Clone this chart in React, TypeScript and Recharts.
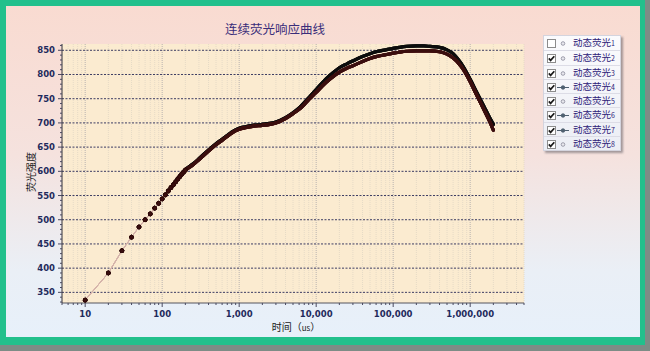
import React from 'react';
import { LineChart, Line, XAxis, YAxis, CartesianGrid } from 'recharts';

// ---- data ----
const times = [
  10, 20, 30, 40, 50, 60, 70, 80, 90, 100,
  110, 120, 130, 140, 150, 160, 170, 180, 190, 200,
  250, 300, 400, 500, 600, 700, 800,
  1000, 1200, 1500, 2000, 2500, 3000, 4000, 5000, 6000, 7000, 8000,
  10000, 12000, 15000, 20000, 25000, 30000, 40000, 50000, 60000, 80000,
  100000, 120000, 150000, 200000, 250000, 300000, 400000, 500000, 600000, 700000, 800000,
  1000000, 1200000, 1500000, 1800000, 2000000,
];

const fluorUpper = [
  334, 390, 436, 464, 485, 500, 512, 524, 534, 543,
  552, 560, 567, 573, 579, 585, 590, 595, 599, 603,
  615, 626, 644, 657, 666, 674, 681,
  689, 692, 695, 697, 699, 702, 711, 721, 731, 742, 752,
  769, 783, 798, 814, 822, 828, 837, 843, 847, 851,
  854, 856, 858, 859, 859, 858, 856, 851, 843, 831, 818,
  790, 765, 735, 710, 697,
];

const fluorLower = [
  334, 390, 436, 464, 485, 500, 512, 524, 534, 543,
  551, 559, 566, 572, 578, 584, 589, 594, 598, 602,
  613, 624, 642, 655, 664, 672, 679,
  687, 690, 693, 695, 697, 700, 709, 719, 728, 738, 748,
  763, 776, 790, 805, 813, 818, 827, 833, 837, 841,
  844, 846, 848, 849, 849, 849, 847, 842, 834, 824, 812,
  785, 759, 728, 702, 685,
];

const seriesNames = ['动态荧光', '动态荧光', '动态荧光', '动态荧光', '动态荧光', '动态荧光', '动态荧光', '动态荧光'];
const seriesIndex = ['1', '2', '3', '4', '5', '6', '7', '8'];
const seriesChecked = [false, true, true, true, true, true, true, true];
const seriesWithLine = [false, false, false, true, false, true, true, false];
const seriesValues = [fluorLower, fluorLower, fluorLower, fluorUpper, fluorLower, fluorUpper, fluorUpper, fluorLower];
const seriesColors = ['#7a7a7a', '#5a1616', '#4e1313', '#111111', '#4a1212', '#161616', '#0c0c0c', '#3a0e0e'];
// draw the upper family first, lower family on top
const drawOrder = [3, 5, 6, 1, 2, 4, 7];

const yMajorTicks = [350, 400, 450, 500, 550, 600, 650, 700, 750, 800, 850];
const xMajorTicks = [10, 100, 1000, 10000, 100000, 1000000];
const yDomain = [328, 863];
const xDomain = [5, 5000000];

const yAllTicks: number[] = [];
for (let v = 330; v <= 860; v += 10) yAllTicks.push(v);
const xAllTicks: number[] = [];
for (let k = 0; k <= 6; k++) {
  for (let m = 1; m <= 9; m++) {
    const v = m * Math.pow(10, k);
    if (v >= xDomain[0] && v <= xDomain[1]) xAllTicks.push(v);
  }
}
const xMinorTicks = xAllTicks.filter((v) => !xMajorTicks.includes(v));

const BAND_START = 150;
const DOT_END = 200;

const chartData = times.map((t, i) => {
  const row: Record<string, number | null> = { t };
  seriesValues.forEach((vals, s) => {
    row['s' + s] = vals[i];
    row['b' + s] = t >= BAND_START ? vals[i] : null;
  });
  return row;
});

const tickFont = '"DejaVu Sans", Verdana, sans-serif';
const cjkFont = '"Noto Sans CJK SC", "Noto Sans", sans-serif';

const XTick = (props: any) => {
  const { x, y, payload } = props;
  const major = xMajorTicks.includes(payload.value);
  return (
    <g>
      <line x1={x} x2={x} y1={y} y2={y + (major ? 4 : 2)} stroke="#4a4a60" strokeWidth={1} />
      {major && (
        <text x={x} y={y + 14} textAnchor="middle" fontFamily={tickFont} fontWeight="bold" fontSize={8.5} fill="#1f2a5c">
          {payload.value.toLocaleString('en-US')}
        </text>
      )}
    </g>
  );
};

const YTick = (props: any) => {
  const { x, y, payload } = props;
  const major = yMajorTicks.includes(payload.value);
  return (
    <g>
      <line x1={x - (major ? 4 : 2)} x2={x} y1={y} y2={y} stroke="#4a4a60" strokeWidth={1} />
      {major && (
        <text x={x - 7} y={y + 3} textAnchor="end" fontFamily={tickFont} fontWeight="bold" fontSize={8.5} fill="#1f2a5c">
          {payload.value}
        </text>
      )}
    </g>
  );
};

const makeDot = (color: string) => (props: any) => {
  const { cx, cy, payload, index } = props;
  if (payload.t > DOT_END || cx == null || cy == null) return <g key={'d' + index} />;
  return <circle key={'d' + index} cx={cx} cy={cy} r={1.9} fill={color} stroke="#2a0808" strokeWidth={0.6} />;
};

const CheckBox = ({ checked }: { checked: boolean }) => (
  <svg width={9} height={9} style={{ position: 'absolute', left: 3, top: 3 }}>
    <rect x={0.5} y={0.5} width={8} height={8} fill="#ffffff" stroke="#8c8c8c" strokeWidth={1} />
    {checked && <path d="M1.8 4.4 L3.6 6.4 L7.3 2.2" fill="none" stroke="#1a1a1a" strokeWidth={1.7} />}
  </svg>
);

const Marker = ({ withLine }: { withLine: boolean }) => (
  <svg width={14} height={7} style={{ position: 'absolute', left: 12, top: 4 }}>
    {withLine && <line x1={1} x2={13} y1={3.5} y2={3.5} stroke="#4f6070" strokeWidth={1} />}
    <circle cx={7} cy={3.5} r={1.8} fill={withLine ? '#4f6070' : '#e8e8ee'} stroke={withLine ? '#4f6070' : '#8a8a9a'} strokeWidth={0.8} />
  </svg>
);

export default function App() {
  return (
    <div style={{ position: 'relative', width: 650, height: 351, background: '#7d8c86', overflow: 'hidden' }}>
      <style>{'body{margin:0;}'}</style>
      <div style={{ position: 'absolute', left: 0, top: 0, width: 645, height: 345, background: '#22c08c' }} />
      <div
        style={{
          position: 'absolute',
          left: 6,
          top: 6,
          width: 634,
          height: 331,
          background: 'linear-gradient(to bottom, #f9dbd1 0%, #f5e2de 45%, #eaeff6 80%, #e7f0fa 100%)',
        }}
      />
      <div
        style={{
          position: 'absolute',
          left: 0,
          top: 22,
          width: 550,
          textAlign: 'center',
          fontFamily: cjkFont,
          fontSize: 12.5,
          color: '#3a2d7a',
          lineHeight: '14px',
        }}
      >
        连续荧光响应曲线
      </div>
      <div style={{ position: 'absolute', left: 0, top: 0 }}>
        <LineChart width={650} height={351} data={chartData} margin={{ top: 44, right: 126, bottom: 18, left: 12 }}>
          <CartesianGrid
            horizontal={false}
            verticalValues={xMinorTicks}
            stroke="#e6dac6"
            strokeDasharray="1 1"
            fill="#fbebd0"
            fillOpacity={1}
          />
          <CartesianGrid horizontal={false} verticalValues={xMajorTicks} stroke="#b8b2b0" strokeDasharray="1 1" />
          <CartesianGrid vertical={false} horizontalValues={yMajorTicks} stroke="#3c3c62" strokeDasharray="2 1.5" />
          <XAxis
            dataKey="t"
            type="number"
            scale="log"
            domain={xDomain}
            allowDataOverflow
            ticks={xAllTicks}
            interval={0}
            tickSize={0}
            tickMargin={0}
            tickLine={false}
            tick={<XTick />}
            axisLine={{ stroke: '#55555f' }}
            height={30}
          />
          <YAxis
            type="number"
            domain={yDomain}
            allowDataOverflow
            ticks={yAllTicks}
            interval={0}
            tickSize={0}
            tickMargin={0}
            tickLine={false}
            tick={<YTick />}
            axisLine={{ stroke: '#33333f' }}
            width={50}
          />
          {drawOrder.map((s) => (
            <Line
              key={'line' + s}
              dataKey={'s' + s}
              type="linear"
              stroke="#d4b2aa"
              strokeWidth={0.8}
              dot={makeDot(seriesColors[s])}
              activeDot={false}
              isAnimationActive={false}
            />
          ))}
          {drawOrder.map((s) => (
            <Line
              key={'band' + s}
              dataKey={'b' + s}
              type="monotone"
              stroke={seriesColors[s]}
              strokeWidth={3.2}
              strokeLinecap="round"
              strokeLinejoin="round"
              dot={false}
              activeDot={false}
              connectNulls={false}
              isAnimationActive={false}
            />
          ))}
        </LineChart>
      </div>
      <div
        style={{
          position: 'absolute',
          left: 30,
          top: 172,
          transform: 'translate(-50%, -50%) rotate(-90deg)',
          fontFamily: cjkFont,
          fontSize: 10,
          color: '#222222',
          whiteSpace: 'nowrap',
        }}
      >
        荧光强度
      </div>
      <div
        style={{
          position: 'absolute',
          left: 296,
          top: 326,
          transform: 'translate(-50%, -50%)',
          fontFamily: cjkFont,
          fontSize: 10,
          color: '#222222',
          whiteSpace: 'nowrap',
        }}
      >
        时间（<span style={{ fontSize: 8 }}>us</span>）
      </div>
      <div
        style={{
          position: 'absolute',
          left: 543,
          top: 35,
          width: 76,
          height: 114,
          background: 'linear-gradient(to bottom, #fbfbfd, #eceef5)',
          border: '1px solid #d4d4de',
          boxShadow: '2px 2px 2px rgba(60,60,70,0.45)',
        }}
      >
        {seriesNames.map((name, i) => (
          <div
            key={'leg' + i}
            style={{
              position: 'absolute',
              left: 0,
              top: i * 14.25,
              width: 76,
              height: 14.25,
              borderTop: i === 0 ? 'none' : '1px solid #dcdce6',
              boxSizing: 'border-box',
            }}
          >
            <CheckBox checked={seriesChecked[i]} />
            <Marker withLine={seriesWithLine[i]} />
            <div
              style={{
                position: 'absolute',
                left: 29,
                top: 0,
                lineHeight: '13px',
                fontFamily: cjkFont,
                fontSize: 9.5,
                color: '#2e2278',
                whiteSpace: 'nowrap',
              }}
            >
              {name}
              <span style={{ fontSize: 7 }}>{seriesIndex[i]}</span>
            </div>
          </div>
        ))}
      </div>
    </div>
  );
}
